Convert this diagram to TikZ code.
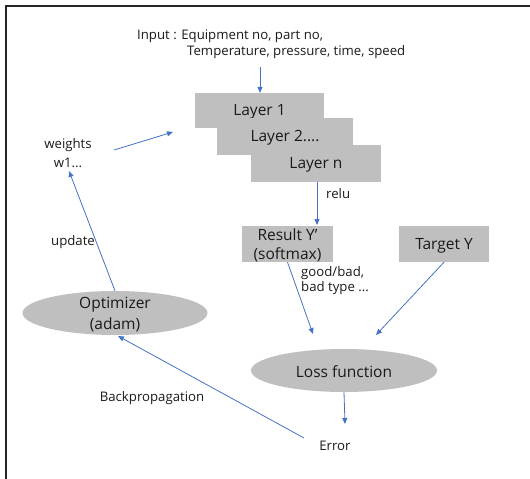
\documentclass[tikz,border=0pt]{standalone}
\usepackage{fontspec}
\setmainfont{Open Sans}
\usetikzlibrary{arrows.meta,shapes.geometric}
\definecolor{boxgray}{HTML}{BFBFBF}
\definecolor{arrblue}{HTML}{4472C4}
\definecolor{txt}{HTML}{1A1A1A}
\tikzset{
  arr/.style={draw=arrblue,line width=0.8pt,-{Triangle[length=6pt,width=5pt]}},
  layerbox/.style={fill=boxgray,draw=none,inner sep=0pt,text=txt,font=\fontsize{15.5}{18}\selectfont},
  boxtext/.style={inner sep=0pt,text=txt,align=center,font=\fontsize{15.5}{18}\selectfont},
  ellnode/.style={ellipse,fill=boxgray,draw=none,inner sep=0pt},
  small/.style={inner sep=0pt,text=txt,font=\fontsize{13.2}{16}\selectfont},
}
\begin{document}
\begin{tikzpicture}[x=1pt,y=-1pt]
\useasboundingbox (0,0) rectangle (530,479);
\draw[line width=1.3pt,black!85] (6,479) -- (6,6) -- (530,6);
% input
\node[small,anchor=west] (in1) at (137,36) {Input : Equipment no, part no,};
\node[small,anchor=west] (in2) at (187,52) {Temperature, pressure, time, speed};
% layers
\node[layerbox,minimum width=129pt,minimum height=35pt] (l1) at (259.5,110.5) {};
\node[boxtext] (l1t) at (259.5,112) {Layer 1};
\node[layerbox,minimum width=136pt,minimum height=37pt] (l2) at (285,136.5) {};
\node[boxtext] (l2t) at (285,138) {Layer 2....};
\node[layerbox,minimum width=130pt,minimum height=37pt] (ln) at (316,163.5) {};
\node[boxtext] (lnt) at (316,165) {Layer n};
% results
\node[layerbox,minimum width=91pt,minimum height=36pt] (res) at (287.5,244) {};
\node[boxtext,font=\fontsize{15.5}{19}\selectfont] (rest) at (287.5,245) {Result Y’\\(softmax)};
\node[layerbox,minimum width=90pt,minimum height=36pt] (tgt) at (444,244) {};
\node[boxtext] (tgtt) at (444,245.5) {Target Y};
% ellipses
\node[ellnode,minimum width=185pt,minimum height=44pt] (opt) at (115,313) {};
\node[boxtext,font=\fontsize{15.5}{21}\selectfont] (optt) at (115,314.5) {Optimizer\\(adam)};
\node[ellnode,minimum width=186pt,minimum height=43pt] (loss) at (344,370.5) {};
\node[boxtext] (losst) at (344,372) {Loss function};
% texts
\node[small,align=center,font=\fontsize{13.2}{19}\selectfont] (w) at (68,153) {weights\\w1...};
\node[small,anchor=west] (relu) at (326,194) {relu};
\node[small,anchor=west,align=left,font=\fontsize{13.2}{15.5}\selectfont] (gb) at (301,280.5) {good/bad,\\bad type ...};
\node[small] (err) at (335,446) {Error};
\node[small] (upd) at (73,242) {update};
\node[small] (bp) at (152,398) {Backpropagation};
% coordinates
\coordinate (a1) at (260,67);
\coordinate (rs) at (317,182);
\coordinate (rt) at (317,225);
\coordinate (wl) at (173,132);
\coordinate (ws) at (114,150);
\coordinate (wt) at (69,171);
\coordinate (lt1) at (313,334);
\coordinate (lt2) at (376,335);
\coordinate (et) at (345,424);
\coordinate (es) at (304,438);
\coordinate (ot) at (118,336);
% arrows
\draw[arr] (a1) -- (l1.north -| a1);
\draw[arr] (rs) -- (rt);
\draw[arr] (res.south) -- (lt1);
\draw[arr] (tgt.south) -- (lt2);
\draw[arr] (loss.south) -- (et);
\draw[arr] (es) -- (ot);
\draw[arr] (opt.north) -- (wt);
\draw[arr] (ws) -- (wl);
\end{tikzpicture}
\end{document}
